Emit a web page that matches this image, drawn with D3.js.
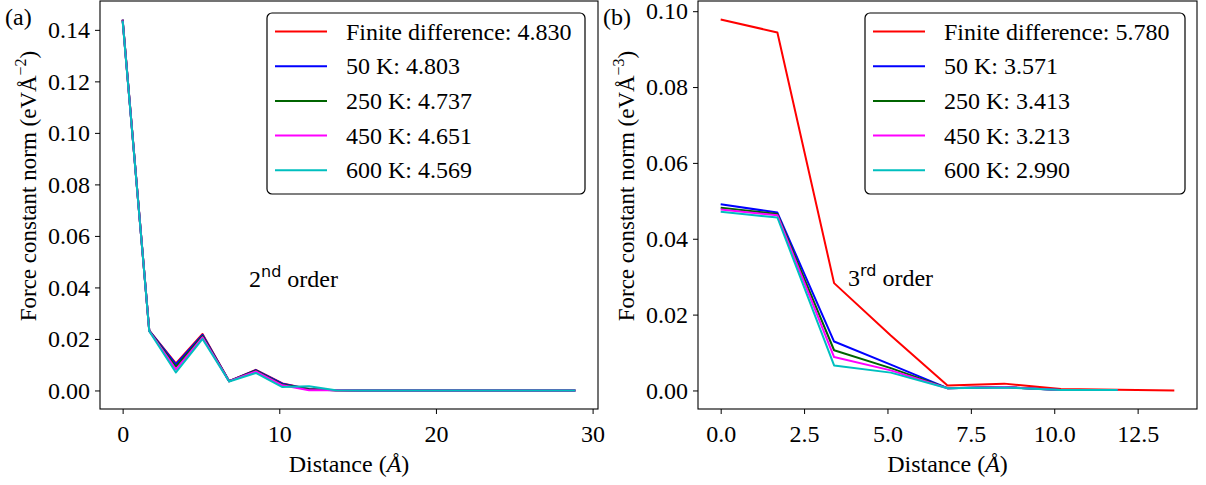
<!DOCTYPE html>
<html>
<head>
<meta charset="utf-8">
<script src="https://cdn.jsdelivr.net/npm/d3@7"></script>
<style>
  body { margin: 0; background: #fff; }
  svg { display: block; }
  svg text { font-family: "Liberation Serif", "Times New Roman", serif; fill: #000; }
</style>
</head>
<body>
<div id="chart"></div>
<script>
// series names and colours (shared by both panels)
const seriesKeys = ["fd", "k50", "k250", "k450", "k600"];
const seriesColors = ["#ff0000", "#0000ff", "#006400", "#ff00ff", "#00bfbf"];

// panel (a): 2nd order force constants
const dist2 = [0, 1.7, 3.4, 5.1, 6.8, 8.5, 10.2, 11.9, 13.6, 15.3, 17.0, 18.7, 20.4, 22.1, 23.8, 25.5, 27.2, 28.9];
const fd2   = [0.1440, 0.0232, 0.0105, 0.0219, 0.0036, 0.0080, 0.0027, 0.0006, 0.0001, 0, 0, 0, 0, 0, 0, 0, 0, 0];
const k50_2  = [0.1440, 0.0232, 0.0101, 0.0216, 0.0036, 0.0079, 0.0026, 0.0005, 0.0001, 0, 0, 0, 0, 0, 0, 0, 0, 0];
const k250_2 = [0.1439, 0.0231, 0.0092, 0.0211, 0.0036, 0.0077, 0.0023, 0.0004, 0.0001, 0, 0, 0, 0, 0, 0, 0, 0, 0];
const k450_2 = [0.1437, 0.0231, 0.0082, 0.0206, 0.0036, 0.0074, 0.0020, 0.0001, 0.0001, 0, 0, 0, 0, 0, 0, 0, 0, 0];
const k600_2 = [0.1435, 0.0230, 0.0070, 0.0200, 0.0035, 0.0068, 0.0013, 0.0016, 0.0001, 0, 0, 0, 0, 0, 0, 0, 0, 0];
const legend2 = ["Finite difference: 4.830", "50 K: 4.803", "250 K: 4.737", "450 K: 4.651", "600 K: 4.569"];
const yTicks2 = [0, 0.02, 0.04, 0.06, 0.08, 0.10, 0.12, 0.14];
const xTicks2 = [0, 10, 20, 30];

// panel (b): 3rd order force constants
const dist3FD = [0, 1.7, 3.4, 5.1, 6.8, 8.5, 10.2, 11.9, 13.6];
const dist3   = [0, 1.7, 3.4, 5.1, 6.8, 8.5, 10.2, 11.9];
const fd3   = [0.0978, 0.0944, 0.0283, 0.0145, 0.0013, 0.0018, 0.0004, 0.0002, 0.0000];
const k50_3  = [0.0491, 0.0469, 0.0129, 0.0068, 0.0006, 0.0009, 0.0001, 0.0001];
const k250_3 = [0.0482, 0.0465, 0.0106, 0.0059, 0.0006, 0.0009, 0.0001, 0.0001];
const k450_3 = [0.0477, 0.0462, 0.0088, 0.0053, 0.0006, 0.0009, 0.0001, 0.0001];
const k600_3 = [0.0471, 0.0456, 0.0066, 0.0047, 0.0006, 0.0008, 0.0001, 0.0001];
const legend3 = ["Finite difference: 5.780", "50 K: 3.571", "250 K: 3.413", "450 K: 3.213", "600 K: 2.990"];
const yTicks3 = [0, 0.02, 0.04, 0.06, 0.08, 0.10];
const xTicks3 = [0, 2.5, 5, 7.5, 10, 12.5];

const W = 1206, H = 485;
const SERIF = "Liberation Serif";
const svg = d3.select("#chart").append("svg").attr("width", W).attr("height", H);

function zip(xs, ys) { return ys.map((y, i) => [xs[i], y]); }

// matplotlib style 5% margins
function padded(vals) {
  const [lo, hi] = d3.extent(vals);
  const p = (hi - lo) * 0.05;
  return [lo - p, hi + p];
}

function drawPanel(cfg) {
  const { left, right, top, bottom } = cfg.box;
  const g = svg.append("g");

  const allX = cfg.series.flatMap(s => s.pts.map(p => p[0]));
  const allY = cfg.series.flatMap(s => s.pts.map(p => p[1]));
  const x = d3.scaleLinear().domain(padded(allX)).range([left, right]);
  const y = d3.scaleLinear().domain(padded(allY)).range([bottom, top]);

  // lines
  const line = d3.line().x(d => x(d[0])).y(d => y(d[1]));
  g.append("g").selectAll("path")
    .data(cfg.series)
    .enter()
    .append("path")
    .attr("d", d => line(d.pts))
    .attr("fill", "none")
    .attr("stroke", d => d.color)
    .attr("stroke-width", 2)
    .attr("stroke-linejoin", "round");

  // axes
  const xAxis = g.append("g")
    .attr("transform", `translate(0,${bottom})`)
    .call(d3.axisBottom(x).tickValues(cfg.xTicks).tickFormat(cfg.xFmt).tickSize(5).tickPadding(5));
  const yAxis = g.append("g")
    .attr("transform", `translate(${left},0)`)
    .call(d3.axisLeft(y).tickValues(cfg.yTicks).tickFormat(d3.format(".2f")).tickSize(5).tickPadding(5));
  [xAxis, yAxis].forEach(a => {
    a.select(".domain").remove();
    a.attr("font-size", 24).attr("font-family", SERIF);
    a.selectAll(".tick line").attr("stroke", "#000").attr("stroke-width", 1);
    a.selectAll(".tick text").attr("fill", "#000").attr("font-family", SERIF);
  });
  xAxis.selectAll(".tick text").attr("dy", "0.95em");

  // frame
  g.append("rect")
    .attr("x", left).attr("y", top)
    .attr("width", right - left).attr("height", bottom - top)
    .attr("fill", "none").attr("stroke", "#000").attr("stroke-width", 1.1);

  // legend
  const lg = cfg.legend;
  g.append("rect")
    .attr("x", lg.x).attr("y", lg.y)
    .attr("width", lg.w).attr("height", lg.h)
    .attr("rx", 5)
    .attr("fill", "#fff").attr("stroke", "#000").attr("stroke-width", 1.2);
  const rows = g.append("g").selectAll("g")
    .data(cfg.series)
    .enter()
    .append("g")
    .attr("transform", (d, i) => `translate(${lg.x + 8},${lg.y + 18.5 + i * 34.7})`);
  rows.append("line")
    .attr("x1", 0).attr("x2", 52)
    .attr("stroke", d => d.color).attr("stroke-width", 2);
  rows.append("text")
    .attr("x", 71).attr("y", 8)
    .attr("font-family", SERIF)
    .attr("font-size", 24)
    .text(d => d.label);

  // panel letter
  g.append("text")
    .attr("x", left - 95).attr("y", 25)
    .attr("font-family", SERIF)
    .attr("font-size", 24)
    .text(cfg.letter);

  // y label
  const yl = g.append("text")
    .attr("transform", `translate(${left - 64},${(top + bottom) / 2 - 19}) rotate(-90)`)
    .attr("text-anchor", "middle")
    .attr("font-family", SERIF)
    .attr("font-size", 23);
  yl.append("tspan").text("Force constant norm (eVÅ");
  yl.append("tspan").attr("dy", -10).attr("font-size", 16).text(cfg.power);
  yl.append("tspan").attr("dy", 10).text(")");

  // x label
  const xl = g.append("text")
    .attr("x", (left + right) / 2).attr("y", 472)
    .attr("text-anchor", "middle")
    .attr("font-family", SERIF)
    .attr("font-size", 24);
  xl.append("tspan").text("Distance (");
  xl.append("tspan").attr("font-style", "italic").text("Å");
  xl.append("tspan").text(")");

  // order annotation
  const an = g.append("text")
    .attr("x", cfg.note.x).attr("y", cfg.note.y)
    .attr("font-family", SERIF)
    .attr("font-size", 24);
  an.append("tspan").text(cfg.note.num);
  an.append("tspan").attr("dy", -10).attr("font-size", 16)
    .attr("font-family", "DejaVu Sans").text(cfg.note.sup);
  an.append("tspan").attr("dy", 10).text(" order");
}

drawPanel({
  box: { left: 100, right: 598, top: 1, bottom: 409 },
  series: [
    { label: legend2[0], color: seriesColors[0], pts: zip(dist2, fd2) },
    { label: legend2[1], color: seriesColors[1], pts: zip(dist2, k50_2) },
    { label: legend2[2], color: seriesColors[2], pts: zip(dist2, k250_2) },
    { label: legend2[3], color: seriesColors[3], pts: zip(dist2, k450_2) },
    { label: legend2[4], color: seriesColors[4], pts: zip(dist2, k600_2) }
  ],
  xTicks: xTicks2,
  xFmt: d3.format("d"),
  yTicks: yTicks2,
  legend: { x: 267, y: 13, w: 318, h: 181 },
  letter: "(a)",
  power: "−2",
  note: { x: 249, y: 287, num: "2", sup: "nd" }
});

drawPanel({
  box: { left: 698, right: 1197, top: 1, bottom: 409 },
  series: [
    { label: legend3[0], color: seriesColors[0], pts: zip(dist3FD, fd3) },
    { label: legend3[1], color: seriesColors[1], pts: zip(dist3, k50_3) },
    { label: legend3[2], color: seriesColors[2], pts: zip(dist3, k250_3) },
    { label: legend3[3], color: seriesColors[3], pts: zip(dist3, k450_3) },
    { label: legend3[4], color: seriesColors[4], pts: zip(dist3, k600_3) }
  ],
  xTicks: xTicks3,
  xFmt: d3.format(".1f"),
  yTicks: yTicks3,
  legend: { x: 865, y: 13, w: 320, h: 181 },
  letter: "(b)",
  power: "−3",
  note: { x: 848, y: 286, num: "3", sup: "rd" }
});
</script>
</body>
</html>
